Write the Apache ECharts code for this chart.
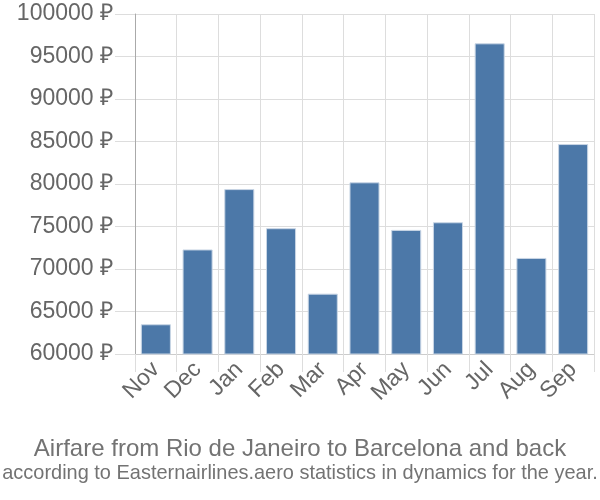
<!DOCTYPE html>
<html><head><meta charset="utf-8">
<script src="https://cdn.jsdelivr.net/npm/echarts@6/dist/echarts.min.js"></script>
<style>html,body{margin:0;padding:0;background:#fff}#c{width:600px;height:500px}</style>
</head><body><div id="c"></div>
<script>
const categories = ['Nov','Dec','Jan','Feb','Mar','Apr','May','Jun','Jul','Aug','Sep'];
const prices = [63500, 72300, 79400, 74800, 67100, 80200, 74600, 75500, 96550, 71300, 84700];
const yMin = 60000, yMax = 100000, yStep = 5000;
const titleText = 'Airfare from Rio de Janeiro to Barcelona and back';
const subtitleText = 'according to Easternairlines.aero statistics in dynamics for the year.';

const chart = echarts.init(document.getElementById('c'), null, {renderer:'canvas'});
chart.setOption({
  animation: false,
  backgroundColor: '#fff',
  title: [
    {text: titleText, left: 'center', top: 432, textStyle:{fontFamily:'Liberation Sans', fontSize:24, fontWeight:'normal', color:'#737373'}}
  ],
  graphic: [{
    type: 'text', x: 300, y: 463, scaleX: 0.95, originX: 0,
    style: {text: subtitleText, x: 0, y: 0, align: 'center', verticalAlign: 'top',
      font: '21px "Liberation Sans"', fill: '#737373'}
  }],
  grid: {left: 135, right: 6, top: 14, bottom: 146, containLabel: false},
  xAxis: {
    type: 'category', data: categories, boundaryGap: true,
    axisLine: {show: true, lineStyle: {color: '#ccc', width: 1}},
    axisTick: {show: true, length: 18, lineStyle: {color: '#ddd'}},
    splitLine: {show: true, lineStyle: {color: '#ddd', width: 1}},
    axisLabel: {rotate: 45, fontSize: 23, color: '#666', fontFamily: 'Liberation Sans', margin: 12, interval: 0}
  },
  yAxis: {
    type: 'value', min: yMin, max: yMax, interval: yStep,
    axisLine: {show: true, lineStyle: {color: '#aaa', width: 1}},
    axisTick: {show: true, length: 20, lineStyle: {color: '#ddd'}},
    splitLine: {show: true, lineStyle: {color: '#ddd', width: 1}},
    axisLabel: {fontSize: 23, color: '#666', fontFamily: 'Liberation Sans', margin: 22, formatter: v => v + ' ₽'}
  },
  series: [{
    type: 'bar', data: prices, barCategoryGap: '28%',
    itemStyle: {color: '#4c78a8', borderColor: '#c9d6e5', borderWidth: 1}
  }]
});
</script></body></html>
